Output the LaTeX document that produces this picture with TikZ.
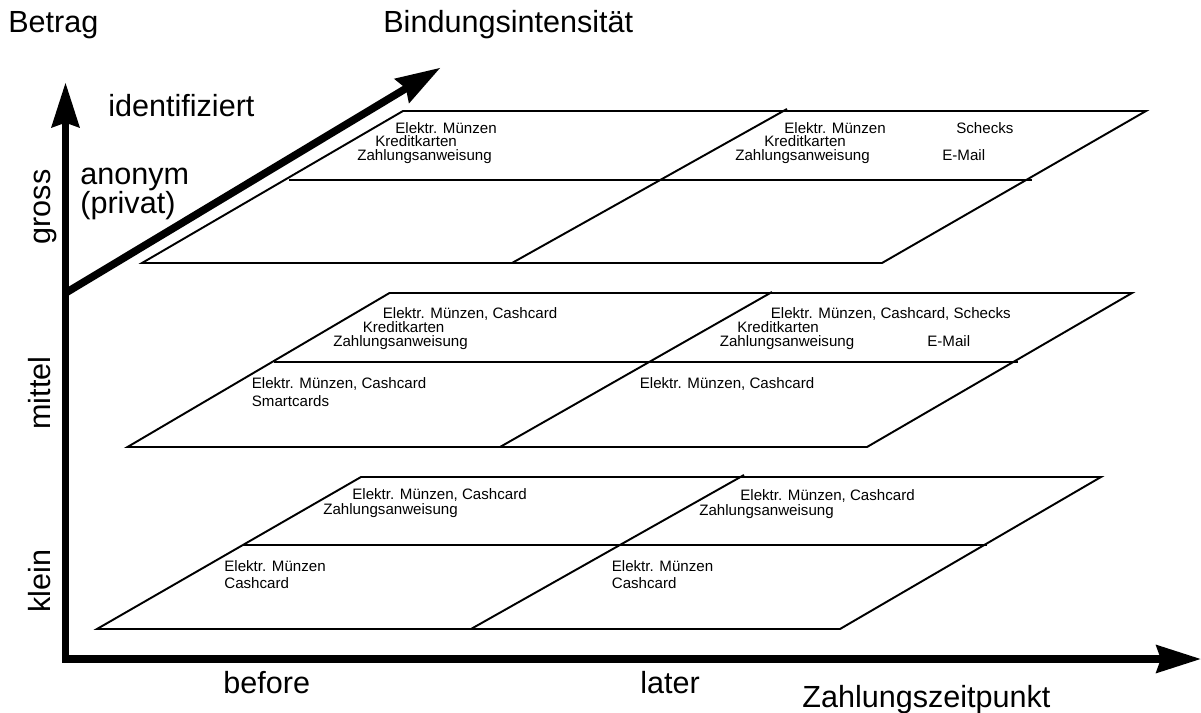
\documentclass[tikz,border=0pt]{standalone}
\usepackage{fontspec}
\setmainfont{Liberation Sans}
\usetikzlibrary{arrows.meta}

\tikzset{
  >={Stealth[length=25.6pt, width=16.5pt, inset=3pt, line width=0pt]},
  axis/.style={line width=4.3pt, line join=miter},
  layer/.style={line width=1.1pt, line join=miter},
  paytext/.style={anchor=base west, inner sep=0pt, font=\fontsize{8.6}{10}\selectfont},
  axistext/.style={anchor=base west, inner sep=0pt, font=\fontsize{17.4}{21}\selectfont}
}

\begin{document}
\begin{tikzpicture}[x=0.02cm, y=-0.02cm]
			\useasboundingbox (0,0) rectangle (1201,713);
			
			% axes
			\coordinate (ytip) at (65.5,83);
			\coordinate (origin) at (65.5,659);
			\coordinate (xtip) at (1200.5,659);
			\coordinate (dstart) at (65.5,293);
			\coordinate (dtip) at (440,68);
			\draw[axis, <->] (ytip) -- (origin) -- (xtip);
			\draw[axis, ->] (dstart) -- (dtip);
			
			% gross
			\coordinate (gbl) at (142,263);
			\coordinate (gbr) at (882,263);
			\coordinate (gtr) at (1146,111);
			\coordinate (gtl) at (403,111);
			\coordinate (gml) at (289,180);
			\coordinate (gmr) at (1032,180);
			\coordinate (gdb) at (512,263);
			\coordinate (gdt) at (787,109);
			
			% mittel
			\coordinate (mbl) at (127.5,447);
			\coordinate (mbr) at (867,447);
			\coordinate (mtr) at (1132,293);
			\coordinate (mtl) at (389.5,293);
			\coordinate (mml) at (274,362);
			\coordinate (mmr) at (1018,362);
			\coordinate (mdb) at (500,447);
			\coordinate (mdt) at (772,292);
			
			% klein
			\coordinate (kbl) at (97,629);
			\coordinate (kbr) at (840,629);
			\coordinate (ktr) at (1101,477);
			\coordinate (ktl) at (361,477);
			\coordinate (kml) at (243,545);
			\coordinate (kmr) at (987,545);
			\coordinate (kdb) at (471,629);
			\coordinate (kdt) at (744,475);
			
			\draw[layer] (gbl) -- (gbr) -- (gtr) -- (gtl) -- cycle;
			\draw[layer] (gml) -- (gmr);
			\draw[layer] (gdb) -- (gdt);
			\draw[layer] (mbl) -- (mbr) -- (mtr) -- (mtl) -- cycle;
			\draw[layer] (mml) -- (mmr);
			\draw[layer] (mdb) -- (mdt);
			\draw[layer] (kbl) -- (kbr) -- (ktr) -- (ktl) -- cycle;
			\draw[layer] (kml) -- (kmr);
			\draw[layer] (kdb) -- (kdt);
			
			% axis labels
			\node[axistext] (betrag) at (8,33) {Betrag};
			\node[axistext] (bindung) at (383,33) {Bindungsintensität};
			\node[axistext] (ident) at (108,117) {identifiziert};
			\node[axistext, text depth=0pt] (anonym) at (80,185) {anonym};
			\node[axistext, text height=14pt] (privat) at (80,214) {(privat)};
			\node[axistext, anchor=base, rotate=90] (gross) at (51,207) {gross};
			\node[axistext, anchor=base, rotate=90] (mittel) at (51,393) {mittel};
			\node[axistext, anchor=base, rotate=90] (klein) at (51,581) {klein};
			\node[axistext] (before) at (223,693) {before};
			\node[axistext] (later) at (640,693) {later};
			\node[axistext] (zeit) at (802,707) {Zahlungszeitpunkt};
			
			% gross entries
			\node[paytext] (g1) at (395,133) {Elektr. Münzen};
			\node[paytext] (g2) at (375,147) {Kreditkarten};
			\node[paytext] (g3) at (357,161) {Zahlungsanweisung};
			\node[paytext] (g4) at (784,133) {Elektr. Münzen};
			\node[paytext] (g5) at (956,133) {Schecks};
			\node[paytext] (g6) at (764,147) {Kreditkarten};
			\node[paytext] (g7) at (735,161) {Zahlungsanweisung};
			\node[paytext] (g8) at (942,161) {E-Mail};
			
			% mittel entries
			\node[paytext] (m1) at (382.5,318) {Elektr. Münzen, Cashcard};
			\node[paytext] (m2) at (362.5,332) {Kreditkarten};
			\node[paytext] (m3) at (333,346) {Zahlungsanweisung};
			\node[paytext] (m4) at (251.5,388) {Elektr. Münzen, Cashcard};
			\node[paytext] (m5) at (251.5,406) {Smartcards};
			\node[paytext] (m6) at (770.5,318) {Elektr. Münzen, Cashcard, Schecks};
			\node[paytext] (m7) at (737,332) {Kreditkarten};
			\node[paytext] (m8) at (719.5,346) {Zahlungsanweisung};
			\node[paytext] (m9) at (927,346) {E-Mail};
			\node[paytext] (m10) at (639.5,388) {Elektr. Münzen, Cashcard};
			
			% klein entries
			\node[paytext] (k1) at (352,499) {Elektr. Münzen, Cashcard};
			\node[paytext] (k2) at (323,514) {Zahlungsanweisung};
			\node[paytext] (k3) at (224,571) {Elektr. Münzen};
			\node[paytext] (k4) at (224,588) {Cashcard};
			\node[paytext] (k5) at (740,500) {Elektr. Münzen, Cashcard};
			\node[paytext] (k6) at (699,515) {Zahlungsanweisung};
			\node[paytext] (k7) at (611.5,571) {Elektr. Münzen};
			\node[paytext] (k8) at (611.5,588) {Cashcard};
\end{tikzpicture}
\end{document}
